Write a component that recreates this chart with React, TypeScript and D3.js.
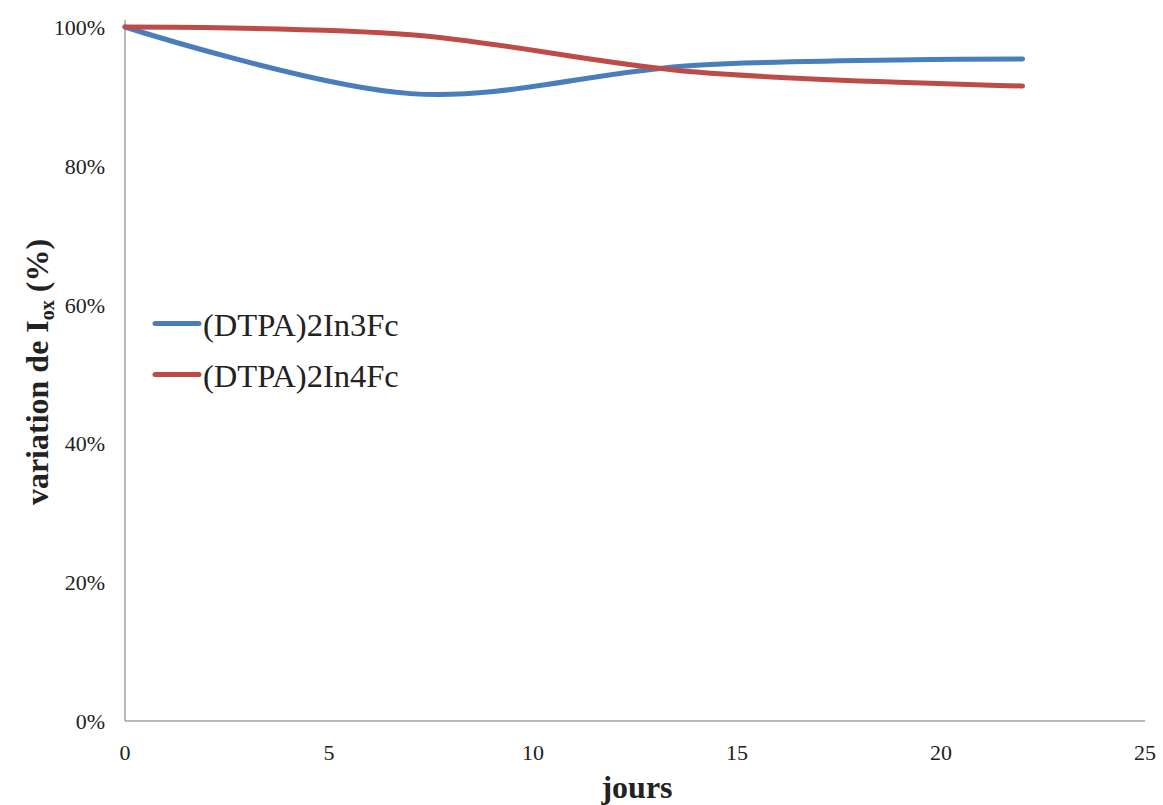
import React from "react";
import * as d3 from "d3";

const days = [0, 7, 14, 22];
const seriesNames = ["(DTPA)2In3Fc", "(DTPA)2In4Fc"];
const blueValues = [100, 90.4, 94.5, 95.4];
const redValues = [100, 98.9, 93.5, 91.5];
const seriesColors = ["#4A7EBB", "#BE4B48"];
const xTicks = [0, 5, 10, 15, 20, 25];
const yTicks = [0, 20, 40, 60, 80, 100];

const W = 1163;
const H = 805;

export default function App() {
  const x = d3.scaleLinear().domain([0, 25]).range([125, 1145]);
  const y = d3.scaleLinear().domain([0, 100]).range([721, 27]);
  const line = d3
    .line<[number, number]>()
    .x((d) => x(d[0]))
    .y((d) => y(d[1]))
    .curve(d3.curveCardinal.tension(0));

  const series = [blueValues, redValues].map((vals) =>
    days.map((d, i) => [d, vals[i]] as [number, number])
  );

  const serif = "'Liberation Serif', 'Times New Roman', serif";

  return (
    <svg
      width={W}
      height={H}
      style={{ position: "absolute", left: 0, top: 0, background: "#fff" }}
      fontFamily={serif}
    >
      {/* axes */}
      <line x1={x(0)} x2={x(0)} y1={y(100) - 7} y2={y(0)} stroke="#A0A0A0" strokeWidth={1.5} />
      <line x1={x(0)} x2={x(25)} y1={y(0)} y2={y(0)} stroke="#A0A0A0" strokeWidth={1.5} />

      {/* y ticks */}
      {yTicks.map((t) => (
        <text key={t} x={105} y={y(t) + 8} textAnchor="end" fontSize={22} fill="#222">
          {t}%
        </text>
      ))}
      {/* x ticks */}
      {xTicks.map((t) => (
        <text key={t} x={x(t)} y={760} textAnchor="middle" fontSize={22} fill="#222">
          {t}
        </text>
      ))}

      {/* series */}
      {series.map((s, i) => (
        <path
          key={i}
          d={line(s) || ""}
          fill="none"
          stroke={seriesColors[i]}
          strokeWidth={5}
          strokeLinecap="round"
          strokeLinejoin="round"
        />
      ))}

      {/* legend */}
      {seriesNames.map((n, i) => (
        <g key={n} transform={`translate(0, ${323.5 + i * 51})`}>
          <line x1={155} x2={199} y1={0} y2={0} stroke={seriesColors[i]} strokeWidth={5} strokeLinecap="round" />
          <text transform="translate(203, 12) scale(1.05, 1)" fontSize={31} fill="#222">
            {n}
          </text>
        </g>
      ))}

      {/* axis titles */}
      <text x={637} y={798} textAnchor="middle" fontSize={32} fontWeight="bold" fill="#222">
        jours
      </text>
      <text
        transform={`translate(48, 372) rotate(-90)`}
        textAnchor="middle"
        fontSize={32}
        fontWeight="bold"
        fill="#222"
      >
        variation de I
        <tspan fontSize={20} dy={6}>ox</tspan>
        <tspan dy={-6}> (%)</tspan>
      </text>
    </svg>
  );
}
